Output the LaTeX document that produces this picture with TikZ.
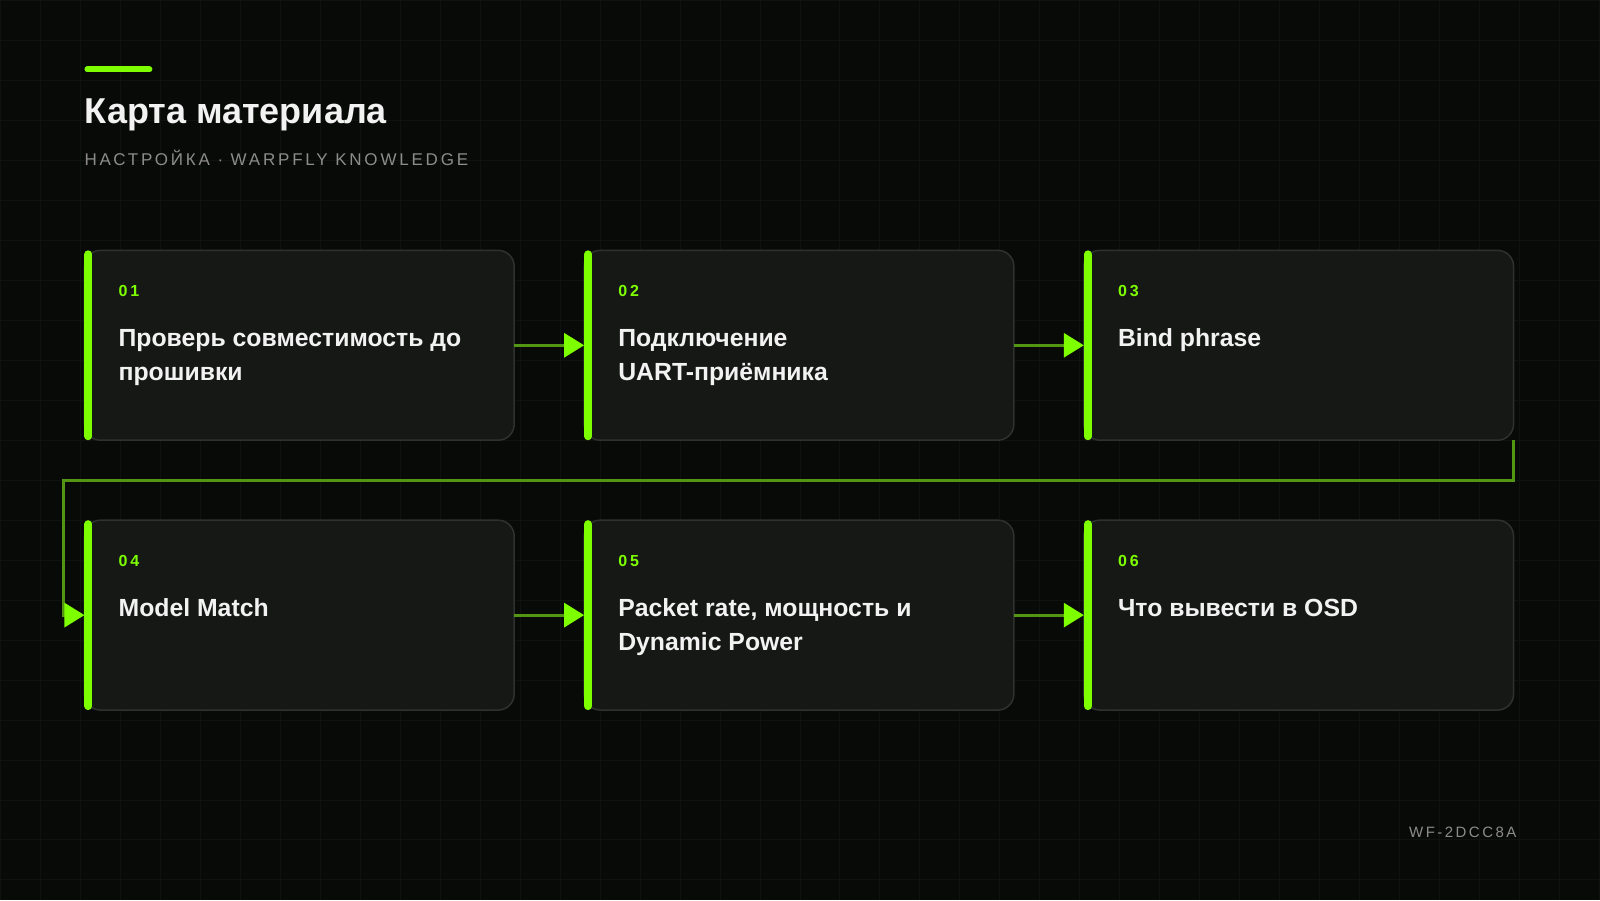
\documentclass[tikz,border=0pt]{standalone}
\usepackage{fontspec}
\setmainfont{Liberation Sans}
\newfontfamily\spacedfont[LetterSpace=16.5]{Liberation Sans}
\newfontfamily\numfont[LetterSpace=18]{Liberation Sans}
\usetikzlibrary{calc}
\usetikzlibrary{arrows.meta}
\definecolor{bgcol}{HTML}{080A08}
\definecolor{gridcol}{HTML}{0F130F}
\definecolor{cardcol}{HTML}{161816}
\definecolor{edgecol}{HTML}{2E312E}
\definecolor{neon}{HTML}{7DFF00}
\definecolor{linkcol}{HTML}{539614}
\definecolor{subcol}{HTML}{8C8C8C}
\newcommand*{\cardw}{430}
\newcommand*{\cardh}{190}
\newcommand*{\colA }{84}
\newcommand*{\colB }{584}
\newcommand*{\colC }{1084}
\newcommand*{\rowA }{250}
\newcommand*{\rowB }{520}

\begin{document}
\begin{tikzpicture}[x=1pt, y=-1pt,
    card/.style  = {draw=edgecol, line width=1.5pt, fill=cardcol, rounded corners=16pt, anchor=north west,
                    minimum width=\cardw pt, minimum height=\cardh pt, inner sep=0pt, outer sep=0pt},
    bar/.style   = {draw=neon, line width=8pt, line cap=round},
    num/.style   = {anchor=base west, inner sep=0pt, text=neon, font=\numfont\bfseries\fontsize{16}{16}\selectfont},
    label/.style = {anchor=base west, inner sep=0pt, text=white!95!black, align=left,
                    font=\bfseries\fontsize{24.8}{34}\selectfont},
    link/.style  = {draw=linkcol, line width=3pt, -{Triangle[length=20pt, width=24pt, color=neon]}}]
    \fill [bgcol] (0,0) rectangle (1600,900);
    \draw [gridcol, line width=1pt, step=40pt] (0,0) grid (1600,900);
    % header
    \draw [neon, line width=6pt, line cap=round] (87,69) -- (149,69);
    \node [anchor=base west, inner sep=0pt, text=white!95!black, font=\bfseries\fontsize{36}{40}\selectfont] (title) at (84,123) {Карта материала};
    \node [anchor=base west, inner sep=0pt, text=subcol, font=\spacedfont\fontsize{17}{20}\selectfont] (sub) at (84,165) {НАСТРОЙКА · WARPFLY KNOWLEDGE};
    % cards
    \node [card] (c1) at (\colA,\rowA) {};
    \node [card] (c2) at (\colB,\rowA) {};
    \node [card] (c3) at (\colC,\rowA) {};
    \node [card] (c4) at (\colA,\rowB) {};
    \node [card] (c5) at (\colB,\rowB) {};
    \node [card] (c6) at (\colC,\rowB) {};
    \draw [bar] ([shift={(4pt,-4pt)}]c1.north west) -- ([shift={(4pt,4pt)}]c1.south west);
    \draw [bar] ([shift={(4pt,-4pt)}]c2.north west) -- ([shift={(4pt,4pt)}]c2.south west);
    \draw [bar] ([shift={(4pt,-4pt)}]c3.north west) -- ([shift={(4pt,4pt)}]c3.south west);
    \draw [bar] ([shift={(4pt,-4pt)}]c4.north west) -- ([shift={(4pt,4pt)}]c4.south west);
    \draw [bar] ([shift={(4pt,-4pt)}]c5.north west) -- ([shift={(4pt,4pt)}]c5.south west);
    \draw [bar] ([shift={(4pt,-4pt)}]c6.north west) -- ([shift={(4pt,4pt)}]c6.south west);
    % two-line labels sit on their last baseline
    \node [num]   (n1) at ([shift={(34pt,-46pt)}]c1.north west) {01};
    \node [label] (t1) at ([shift={(34pt,-130pt)}]c1.north west) {Проверь совместимость до\\прошивки};
    \node [num]   (n2) at ([shift={(34pt,-46pt)}]c2.north west) {02};
    \node [label] (t2) at ([shift={(34pt,-130pt)}]c2.north west) {Подключение\\UART-приёмника};
    \node [num]   (n3) at ([shift={(34pt,-46pt)}]c3.north west) {03};
    \node [label] (t3) at ([shift={(34pt,-96pt)}]c3.north west) {Bind phrase};
    \node [num]   (n4) at ([shift={(34pt,-46pt)}]c4.north west) {04};
    \node [label] (t4) at ([shift={(34pt,-96pt)}]c4.north west) {Model Match};
    \node [num]   (n5) at ([shift={(34pt,-46pt)}]c5.north west) {05};
    \node [label] (t5) at ([shift={(34pt,-130pt)}]c5.north west) {Packet rate, мощность и\\Dynamic Power};
    \node [num]   (n6) at ([shift={(34pt,-46pt)}]c6.north west) {06};
    \node [label] (t6) at ([shift={(34pt,-96pt)}]c6.north west) {Что вывести в OSD};
    % connectors
    \coordinate (turn) at (63,480);
    \draw [link] (c1.east) -- (c2.west);
    \draw [link] (c2.east) -- (c3.west);
    \draw [link] (c3.south east) -- ++(0,40) -- (turn) |- (c4.west);
    \draw [link] (c4.east) -- (c5.west);
    \draw [link] (c5.east) -- (c6.west);
    \node [anchor=base east, inner sep=0pt, text=subcol, font=\spacedfont\fontsize{15}{18}\selectfont] (code) at (1517,838) {WF-2DCC8A};
\end{tikzpicture}
\end{document}
